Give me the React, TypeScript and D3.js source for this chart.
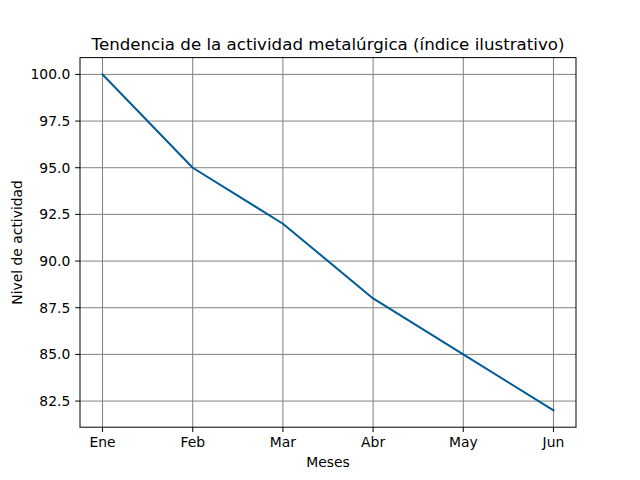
import React from "react";
import * as d3 from "d3";

const months = ["Ene", "Feb", "Mar", "Abr", "May", "Jun"];
const values = [100, 95, 92, 88, 85, 82];
const yTicks = [82.5, 85.0, 87.5, 90.0, 92.5, 95.0, 97.5, 100.0];

const W = 640, H = 480;
const L = 80, R = 576, T = 57.6, B = 427.2;

export default function App() {
  const x = d3.scaleLinear().domain([-0.25, 5.25]).range([L, R]);
  const ymin = d3.min(values)!, ymax = d3.max(values)!;
  const pad = (ymax - ymin) * 0.05;
  const y = d3.scaleLinear().domain([ymin - pad, ymax + pad]).range([B, T]);
  const line = d3.line<number>().x((_, i) => x(i)).y((d) => y(d));
  const font = "DejaVu Sans";
  const fs = 13.89;
  const tl = 4.86;
  return (
    <svg width={W} height={H} style={{ position: "absolute", left: 0, top: 0 }} fontFamily={font}>
      <rect width={W} height={H} fill="white" />
      {months.map((m, i) => (
        <line key={"gx" + m} x1={x(i)} x2={x(i)} y1={T} y2={B} stroke="#808080" strokeWidth={1} />
      ))}
      {yTicks.map((t) => (
        <line key={"gy" + t} x1={L} x2={R} y1={y(t)} y2={y(t)} stroke="#808080" strokeWidth={1} />
      ))}
      <path d={line(values)!} fill="none" stroke="#005b96" strokeWidth={2} strokeLinejoin="round" strokeLinecap="square" />
      <rect x={L} y={T} width={R - L} height={B - T} fill="none" stroke="black" strokeWidth={1} />
      {months.map((m, i) => (
        <g key={"tx" + m}>
          <line x1={x(i)} x2={x(i)} y1={B} y2={B + tl} stroke="black" />
          <text x={x(i)} y={B + 2 * tl + 10.2} textAnchor="middle" fontSize={fs} fill="black">{m}</text>
        </g>
      ))}
      {yTicks.map((t) => (
        <g key={"ty" + t}>
          <line x1={L - tl} x2={L} y1={y(t)} y2={y(t)} stroke="black" />
          <text x={L - 2 * tl} y={y(t) + 5} textAnchor="end" fontSize={fs} fill="black">{t.toFixed(1)}</text>
        </g>
      ))}
      <text x={(L + R) / 2} y={467} textAnchor="middle" fontSize={fs}>Meses</text>
      <text transform={`translate(22,${(T + B) / 2}) rotate(-90)`} textAnchor="middle" fontSize={fs}>Nivel de actividad</text>
      <text x={(L + R) / 2} y={49.5} textAnchor="middle" fontSize={16.67}>Tendencia de la actividad metalúrgica (índice ilustrativo)</text>
    </svg>
  );
}
